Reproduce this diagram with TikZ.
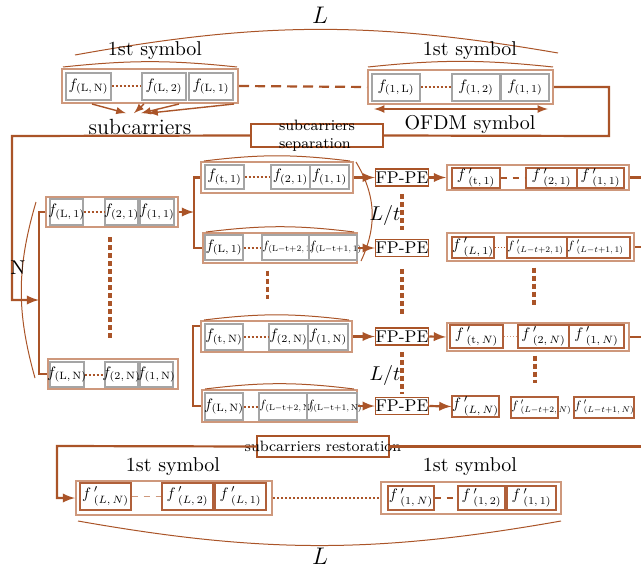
\documentclass[tikz,border=0pt]{standalone}
\usepackage{graphicx}
\usepackage{tikz}
\usetikzlibrary{fit,calc,arrows}
\definecolor{rust}{RGB}{170,84,40}
\definecolor{lrust}{RGB}{206,152,124}
\definecolor{cellgray}{RGB}{165,165,165}
\definecolor{cellrust}{RGB}{176,96,58}
\newcommand{\cellfont}{\fontsize{7.5}{9}\selectfont}
\tikzset{
  cell/.style={draw=cellgray, line width=0.6pt, inner sep=0pt, label={[inner sep=0pt]center:\scalebox{0.76}{$#1$}}},
  tcell/.style={draw=cellgray, line width=0.6pt, inner sep=0pt, label={[inner sep=0pt, anchor=west, xshift=0.3pt]west:\scalebox{0.6}{$#1$}}},
  pcell/.style={cell={#1}, draw=cellrust},
  tpcell/.style={tcell={#1}, draw=cellrust},
  rowbox/.style={draw=lrust, line width=1pt, inner sep=0pt},
  sepbox/.style={draw=rust, line width=0.6pt, inner sep=0pt},
  fppe/.style={draw=rust, line width=0.8pt, minimum width=26pt, minimum height=8.5pt, inner sep=0pt, font=\fontsize{8.5}{10}\selectfont},
  connect/.style={-latex, line width=1.1pt, draw=rust},
  wire/.style={line width=1.1pt, draw=rust},
  cdots/.style={densely dotted, line width=1pt, draw=rust},
  cdash/.style={dashed, line width=0.6pt, draw=rust},
  vdots/.style={dash pattern=on 2.5pt off 1.5pt, line width=1.6pt, draw=rust},
  arcline/.style={line width=0.5pt, draw=rust}
}

\begin{document}
\begin{tikzpicture}[x=0.5pt, y=-0.5pt]
  \useasboundingbox (0,0) rectangle (641,567);
  \coordinate (rx) at (641,0);

  % Transmitted frame
  \node[font=\large] (Ltop) at (320,15) {$L$};
  \draw[arcline] (75,55) to[bend left=10] (558,53);
  \node (sym0) at (155,51) {1st symbol};
  \node (sym1) at (470,51) {1st symbol};
  \draw[arcline] (63,67) to[bend left=6] (237,67);
  \draw[arcline] (368,67) to[bend left=6] (553,67);

  \node[rowbox, fit={(62,69) (238,103)}] (tl) {};
  \node[cell={f_{(\mathrm{L,\,N})}}, fit={(66,73) (111,100)}] (tl1) {};
  \node[cell={f_{(\mathrm{L,\,2})}}, fit={(142,73) (186,100)}] (tl2) {};
  \node[cell={f_{(\mathrm{L,\,1})}}, fit={(189,73) (233,100)}] (tl3) {};
  \draw[cdots] (tl1) -- (tl2);

  \node[rowbox, fit={(368,70) (553,104)}] (tr) {};
  \node[cell={f_{(\mathrm{1,\,L})}}, fit={(372,74) (420,101)}] (tr1) {};
  \node[cell={f_{(\mathrm{1,\,2})}}, fit={(452,74) (500,101)}] (tr2) {};
  \node[cell={f_{(\mathrm{1,\,1})}}, fit={(501,74) (549,101)}] (tr3) {};
  \draw[cdots] (tr1) -- (tr2);
  \draw[dashed, line width=1.1pt, draw=rust, dash pattern=on 5pt off 3pt] (tl.east) -- (tr.west);

  \draw[latex-latex, line width=0.8pt, draw=rust] ($(tr.south west)+(7,4)$) -- ($(tr.south east)+(-6,4)$);
  \node (ofdm) at (470,124) {OFDM symbol};

  % Subcarriers
  \node[font=\fontsize{11}{13}\selectfont] (sub) at (140,127) {subcarriers};
  \foreach \s/\e in {31/-14, 83/-6, 118/1, 173/8}
    \draw[connect, line width=0.7pt] ($(tl.south west)+(\s,0)$) -- ($(sub.north)+(\e,1)$);

  \node[sepbox, fit={(251,124) (383,147)}, label={[font=\cellfont, align=left, inner sep=0pt]center:subcarriers\\separation}] (sep) {};
  \coordinate (c1) at (609,136);
  \coordinate (c2) at (12,136);
  \coordinate (busL) at (39,300);
  \draw[wire] (tr.east) -| (c1) -- (sep.east);
  \draw[connect] (sep.west) -- (c2) |- (busL);

  % Left column
  \node[rowbox, fit={(46,197) (178,227)}] (l1) {};
  \node[cell={f_{(\mathrm{L,\,1})}}, fit={(50,199) (83,225)}] (l11) {};
  \node[cell={f_{(\mathrm{2,\,1})}}, fit={(105,199) (138,225)}] (l12) {};
  \node[cell={f_{(\mathrm{1,\,1})}}, fit={(140,199) (174,225)}] (l13) {};
  \draw[cdots] (l11) -- (l12);

  \node[rowbox, fit={(48,359) (178,389)}] (ln) {};
  \node[cell={f_{(\mathrm{L,\,N})}}, fit={(50,362) (84,387)}] (ln1) {};
  \node[cell={f_{(\mathrm{2,\,N})}}, fit={(105,362) (138,387)}] (ln2) {};
  \node[cell={f_{(\mathrm{1,\,N})}}, fit={(140,362) (173,387)}] (ln3) {};
  \draw[cdots] (ln1) -- (ln2);

  \draw[wire] (l1.west) -| (busL) |- (ln.west);
  \draw[arcline] (36,202) to[bend right=16] (35,378);
  \node (nlab) at (18,268) {N};
  \draw[vdots] (110,237) -- (110,338);

  % Group 1
  \coordinate (busA) at (194,212);
  \draw[connect] (l1.east) -- (busA);
  \node[rowbox, fit={(201,162) (353,193)}] (ga) {};
  \node[cell={f_{(\mathrm{t,\,1})}}, fit={(205,165) (244,189)}] (ga1) {};
  \node[cell={f_{(\mathrm{2,\,1})}}, fit={(271,165) (310,189)}] (ga2) {};
  \node[cell={f_{(\mathrm{1,\,1})}}, fit={(310,165) (349,189)}] (ga3) {};
  \draw[cdots] (ga1) -- (ga2);

  \node[rowbox, fit={(203,233) (357,263)}] (gb) {};
  \node[cell={f_{(\mathrm{L,\,1})}}, fit={(205,235) (243,260)}] (gb1) {};
  \node[tcell={f_{(\mathrm{L-t+2,\,1})}}, fit={(262,235) (309,260)}] (gb2) {};
  \node[tcell={f_{(\mathrm{L-t+1,\,1})}}, fit={(309,235) (357,260)}] (gb3) {};
  \draw[cdots] (gb1) -- (gb2);
  \draw[wire] (ga.west) -| (busA) |- (gb.west);

  % Group N
  \node[rowbox, fit={(201,321) (352,352)}] (gc) {};
  \node[cell={f_{(\mathrm{t,\,N})}}, fit={(205,324) (243,350)}] (gc1) {};
  \node[cell={f_{(\mathrm{2,\,N})}}, fit={(269,324) (308,350)}] (gc2) {};
  \node[cell={f_{(\mathrm{1,\,N})}}, fit={(308,324) (348,350)}] (gc3) {};
  \draw[cdots] (gc1) -- (gc2);

  \node[rowbox, fit={(202,390) (357,422)}] (gd) {};
  \node[cell={f_{(\mathrm{L,\,N})}}, fit={(205,393) (243,420)}] (gd1) {};
  \node[tcell={f_{(\mathrm{L-t+2,\,N})}}, fit={(259,393) (307,420)}] (gd2) {};
  \node[tcell={f_{(\mathrm{L-t+1,\,N})}}, fit={(307,393) (357,420)}] (gd3) {};
  \draw[cdots] (gd1) -- (gd2);
  \draw[wire] ($(gc.north west)+(0,6)$) -- ++(-7,0) |- (gd.west);

  \foreach \g in {ga,gb,gc,gd}
    \draw[arcline] ($(\g.north west)+(4,0)$) to[bend left=7] ($(\g.north east)+(-4,0)$);
  \draw[vdots] (gb2.south west) ++(6,10) -- ++(0,28);

  % FP-PE blocks
  \node[fppe] (fp1) at (402,177.5) {FP-PE};
  \node[fppe] (fp2) at (402,248) {FP-PE};
  \node[fppe] (fp3) at (402,336.5) {FP-PE};
  \node[fppe] (fp4) at (402,406) {FP-PE};
  \draw[connect] (ga.east) -- (fp1.west);
  \draw[connect] (gb.east) -- (fp2.west);
  \draw[connect] (gc.east) -- (fp3.west);
  \draw[connect] (gd.east) -- (fp4.west);
  \draw[vdots] (fp1.south) ++(0,7) -- ++(0,36);
  \draw[vdots] (fp2.south) ++(0,11.5) -- ++(0,47);
  \draw[vdots] (fp3.south) ++(0,6) -- ++(0,42);
  \draw[arcline] ($(ga.north east)+(2,1)$) to[bend left=28] ($(gb.south east)+(3,-3)$);
  \node (lt1) at (385,215) {$L/t$};
  \node (lt2) at (385,375) {$L/t$};

  % Right column
  \node[rowbox, fit={(447,165) (629,190)}] (re) {};
  \node[pcell={f\,'_{(\mathrm{t},\,1)}}, fit={(452,168) (500,188)}] (re1) {};
  \node[pcell={f\,'_{(2,\,1)}}, fit={(526,168) (577,188)}] (re2) {};
  \node[pcell={f\,'_{(1,\,1)}}, fit={(577,168) (624,188)}] (re3) {};
  \draw[cdash] (re1) -- (re2);

  \node[rowbox, fit={(447,233) (634,261)}] (rf) {};
  \node[pcell={f\,'_{(L,\,1)}}, fit={(452,237) (494,258)}] (rf1) {};
  \node[tpcell={f\,'_{(L-t+2,\,1)}}, fit={(507,237) (567,258)}] (rf2) {};
  \node[tpcell={f\,'_{(L-t+1,\,1)}}, fit={(567,237) (630,258)}] (rf3) {};
  \draw[cdots, line width=0.6pt] (rf1) -- (rf2);
  \draw[vdots] (rf2.south) ++(-3,9) -- ++(0,40);

  \node[rowbox, fit={(447,323) (629,351)}] (rg) {};
  \node[pcell={f\,'_{(\mathrm{t},\,N)}}, fit={(450,325) (503,348)}] (rg1) {};
  \node[pcell={f\,'_{(2,\,N)}}, fit={(518,325) (569,348)}] (rg2) {};
  \node[pcell={f\,'_{(1,\,N)}}, fit={(569,325) (624,348)}] (rg3) {};
  \draw[cdots, line width=0.6pt, draw=lrust] (rg1) -- (rg2);
  \draw[vdots] (rg2.south) ++(-8.5,7) -- ++(0,27);

  \node[pcell={f\,'_{(L,\,N)}}, fit={(452,396) (499,417)}] (rh1) {};
  \node[tpcell={f\,'_{(L-t+2,\,N)}}, fit={(511,397) (558,418)}] (rh2) {};
  \node[tpcell={f\,'_{(L-t+1,\,N)}}, fit={(574,397) (634,418)}] (rh3) {};

  \draw[connect] (fp1.east) -- (re.west);
  \draw[connect] (fp3.east) -- (rg.west);
  \draw[connect] (fp4.east) -- (rh1.west);
  \foreach \b in {re,rf,rg}
    \draw[wire] (\b.east) -- (\b.east -| rx);

  % Restoration
  \node[sepbox, fit={(257,436) (389,457)}, label={[font=\cellfont, inner sep=0pt]center:subcarriers restoration}] (res) {};
  \coordinate (c3) at (57,446);
  \draw[wire] (res.east) -- (res.east -| rx);

  % Received frame
  \node (sym2) at (173,467) {1st symbol};
  \node (sym3) at (470,467) {1st symbol};
  \node[rowbox, fit={(76,481) (272,515)}] (bl) {};
  \node[pcell={f\,'_{(L,\,N)}}, fit={(80,483) (131,510)}] (bl1) {};
  \node[pcell={f\,'_{(L,\,2)}}, fit={(162,483) (213,510)}] (bl2) {};
  \node[pcell={f\,'_{(L,\,1)}}, fit={(215,483) (266,510)}] (bl3) {};
  \draw[cdash, draw=lrust, line width=0.8pt] (bl1) -- (bl2);

  \node[rowbox, fit={(381,482) (561,514)}] (br) {};
  \node[pcell={f\,'_{(1,\,N)}}, fit={(388,486) (434,510)}] (br1) {};
  \node[pcell={f\,'_{(1,\,2)}}, fit={(458,486) (505,510)}] (br2) {};
  \node[pcell={f\,'_{(1,\,1)}}, fit={(507,486) (556,510)}] (br3) {};
  \draw[cdash, line width=1pt] (br1) -- (br2);
  \draw[cdots] (bl.east) -- (br.west);

  \draw[connect] (res.west) -- (c3) |- (bl.west);
  \draw[arcline] (78,521) to[bend right=10] (561,521);
  \node[font=\large] (Lbot) at (320,556) {$L$};
\end{tikzpicture}
\end{document}
